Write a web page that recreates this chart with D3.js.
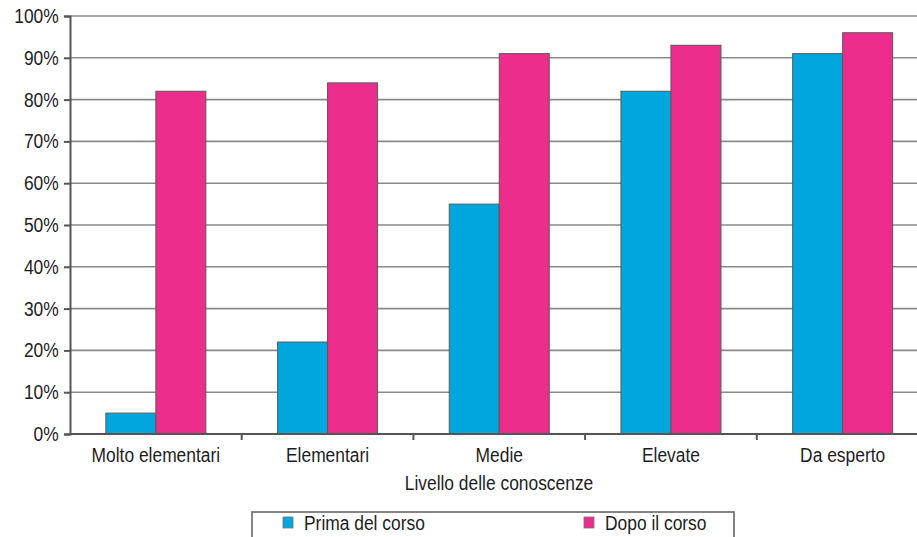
<!DOCTYPE html>
<html>
<head>
<meta charset="utf-8">
<script src="https://cdn.jsdelivr.net/npm/d3@7"></script>
<style>
  html, body { margin: 0; padding: 0; background: #fff; overflow: hidden; }
  svg { display: block; }
  text { font-family: "Liberation Sans", Arial, sans-serif; fill: #1e1e1e; }
</style>
</head>
<body>
<svg id="chart" width="917" height="537"></svg>
<script>
// Knowledge level before and after the course (share of participants)
const categories = ["Molto elementari", "Elementari", "Medie", "Elevate", "Da esperto"];
const seriesNames = ["Prima del corso", "Dopo il corso"];
const prima = [5, 22, 55, 82, 91];
const dopo = [82, 84, 91, 93, 96];
const yTicks = [0, 10, 20, 30, 40, 50, 60, 70, 80, 90, 100];
const colors = ["#00a6de", "#ec2d8b"];
const xTitle = "Livello delle conoscenze";

const svg = d3.select("#chart");
const plotLeft = 70, plotTop = 16, plotBottom = 434;
const bandW = 171.7;
const fontPx = "20px";
const squeeze = 0.87; // narrow the glyphs to a condensed look

const x0 = d3.scaleBand().domain(categories).range([plotLeft, plotLeft + bandW * categories.length]).padding(0);
const x1 = d3.scaleBand().domain(seriesNames).range([(bandW - 100) / 2, (bandW + 100) / 2]).padding(0);
const y = d3.scaleLinear().domain([0, 100]).range([plotBottom, plotTop]);
const color = d3.scaleOrdinal().domain(seriesNames).range(colors);

// text placed at (x, y) with horizontal condensing
function label(sel, x, yPos, anchor) {
  return sel.append("text")
    .attr("transform", `translate(${x},${yPos}) scale(${squeeze},1)`)
    .attr("text-anchor", anchor)
    .style("font-size", fontPx);
}

// horizontal gridlines
svg.append("g")
  .selectAll("line")
  .data(yTicks.filter(d => d > 0))
  .join("line")
  .attr("x1", plotLeft).attr("x2", 917)
  .attr("y1", d => y(d)).attr("y2", d => y(d))
  .attr("stroke", "#8a8a8a").attr("stroke-width", 1.6);

// bars
const rows = categories.map((c, i) => ({ cat: c, values: [prima[i], dopo[i]] }));
svg.append("g")
  .selectAll("g")
  .data(rows)
  .join("g")
  .attr("transform", d => `translate(${x0(d.cat)},0)`)
  .selectAll("rect")
  .data(d => seriesNames.map((s, k) => ({ s, v: d.values[k] })))
  .join("rect")
  .attr("x", d => x1(d.s))
  .attr("width", x1.bandwidth())
  .attr("y", d => y(d.v))
  .attr("height", d => y(0) - y(d.v))
  .attr("fill", d => color(d.s))
  .attr("stroke", "#5a5a5a").attr("stroke-width", 1);

// y axis
const yAxis = svg.append("g")
  .attr("transform", `translate(${plotLeft},0)`)
  .call(d3.axisLeft(y).tickValues(yTicks).tickFormat(d => d + "%").tickSize(6).tickPadding(7));
yAxis.select(".domain").attr("stroke", "#555").attr("stroke-width", 2);
yAxis.selectAll(".tick line").attr("stroke", "#555").attr("stroke-width", 2);
yAxis.selectAll(".tick text")
  .style("font-size", fontPx)
  .attr("fill", "#1e1e1e")
  .attr("transform", `scale(${squeeze},1)`);

// x axis with ticks at category boundaries
const xAxis = svg.append("g").attr("transform", `translate(0,${plotBottom})`);
xAxis.append("line")
  .attr("x1", plotLeft).attr("x2", 917)
  .attr("stroke", "#555").attr("stroke-width", 2);
xAxis.selectAll("line.tk")
  .data(categories.slice(1))
  .join("line").attr("class", "tk")
  .attr("x1", d => x0(d)).attr("x2", d => x0(d))
  .attr("y1", 0).attr("y2", 6)
  .attr("stroke", "#555").attr("stroke-width", 2);
categories.forEach(c => {
  label(svg, x0(c) + x0.bandwidth() / 2, 462, "middle").text(c);
});

// axis title
label(svg, 499, 490, "middle").text(xTitle);

// legend
const legend = svg.append("g");
legend.append("rect")
  .attr("x", 252).attr("y", 512).attr("width", 482).attr("height", 60)
  .attr("fill", "#fff").attr("stroke", "#666").attr("stroke-width", 1.6);
const legendX = [283, 584];
seriesNames.forEach((s, i) => {
  legend.append("rect")
    .attr("x", legendX[i]).attr("y", 517).attr("width", 10).attr("height", 11)
    .attr("fill", color(s)).attr("stroke", "#777").attr("stroke-width", 0.8);
  label(legend, legendX[i] + 21, 530, "start").text(s);
});
</script>
</body>
</html>
